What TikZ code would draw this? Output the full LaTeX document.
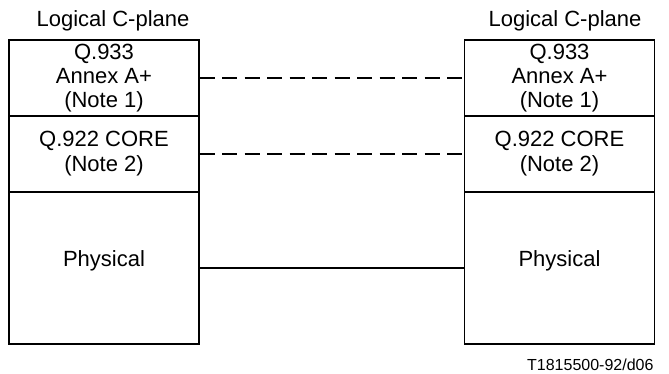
\documentclass[tikz,border=0pt]{standalone}
\usepackage{fontspec}
\setmainfont{Liberation Sans}
\usetikzlibrary{positioning}

\begin{document}
\begin{tikzpicture}[x=1pt,y=-1pt]
        \useasboundingbox (0,0) rectangle (669,373);

        \begin{scope}[every node/.style={draw,line width=1.2pt,minimum width=190pt,inner sep=0pt,align=center,font=\fontsize{22}{24}\selectfont}]
            \node[minimum height=76pt] (lq933) at (104,78) {Q.933\\Annex A+\\(Note 1)};
            \node[minimum height=76pt] (lq922) at (104,154) {Q.922 CORE\\[1pt](Note 2)};
            \node[minimum height=152pt,text depth=19pt] (lphy) at (104,268) {Physical};
            \node[minimum height=76pt] (rq933) at (559.5,78) {Q.933\\Annex A+\\(Note 1)};
            \node[minimum height=76pt] (rq922) at (559.5,154) {Q.922 CORE\\[1pt](Note 2)};
            \node[minimum height=152pt,text depth=19pt] (rphy) at (559.5,268) {Physical};
        \end{scope}

        \begin{scope}[every node/.style={font=\fontsize{22}{24}\selectfont}]
            \node (ltitle) at (113,21) {Logical C-plane};
            \node (rtitle) at (565,21) {Logical C-plane};
            \node[anchor=east,font=\fontsize{16}{18}\selectfont] (fig) at (657,365) {T1815500-92/d06};
        \end{scope}

        \begin{scope}[every edge/.style={draw=black,line width=1.6pt}]
            \path [dash pattern=on 15pt off 7.5pt] (lq933) edge (rq933);
            \path [dash pattern=on 15pt off 7.5pt] (lq922) edge (rq922);
            \path [-] (lphy) edge (rphy);
        \end{scope}
    \end{tikzpicture}
\end{document}
